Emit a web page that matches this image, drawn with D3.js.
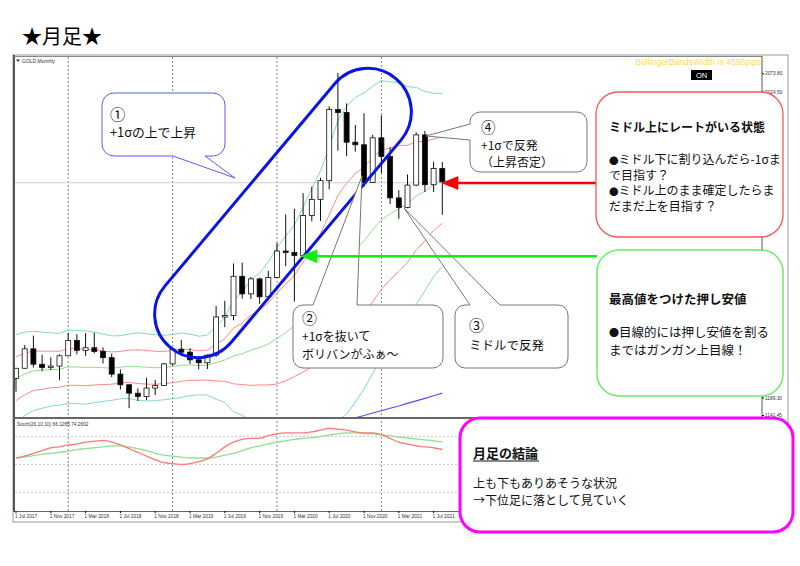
<!DOCTYPE html>
<html>
<head>
<meta charset="utf-8">
<script src="https://cdn.jsdelivr.net/npm/d3@7"></script>
<style>
body { margin: 0; background: #fff; }
svg { display: block; font-family: "Noto Sans CJK JP", "Noto Sans", sans-serif; }
.tiny { font-family: "Liberation Sans", Arial, sans-serif; fill: #333; }
</style>
</head>
<body>
<svg id="chart" width="800" height="566"></svg>
<script>
// GOLD monthly, Jul 2017 - Aug 2021
var months = ["2017-07","2017-08","2017-09","2017-10","2017-11","2017-12",
  "2018-01","2018-02","2018-03","2018-04","2018-05","2018-06","2018-07","2018-08","2018-09","2018-10","2018-11","2018-12",
  "2019-01","2019-02","2019-03","2019-04","2019-05","2019-06","2019-07","2019-08","2019-09","2019-10","2019-11","2019-12",
  "2020-01","2020-02","2020-03","2020-04","2020-05","2020-06","2020-07","2020-08","2020-09","2020-10","2020-11","2020-12",
  "2021-01","2021-02","2021-03","2021-04","2021-05","2021-06","2021-07","2021-08"];

var open  = [1241,1269,1322,1280,1271,1275, 1303,1345,1318,1325,1315,1298,1253,1224,1201,1192,1215,1222,
  1281,1321,1313,1292,1284,1305,1409,1413,1520,1472,1513,1464, 1517,1589,1585,1577,1686,1730,1781,1975,1967,1886,1879,1776,
  1898,1847,1734,1708,1769,1906,1770,1814];
var high  = [1269,1332,1358,1306,1299,1307, 1366,1362,1365,1366,1326,1309,1266,1225,1214,1243,1237,1284,
  1326,1346,1324,1303,1306,1439,1453,1555,1557,1518,1516,1535, 1611,1689,1704,1747,1765,1789,1984,2075,1992,1933,1965,1906,
  1959,1872,1755,1798,1913,1917,1833,1832];
var low   = [1205,1268,1271,1261,1264,1236, 1302,1307,1303,1310,1282,1245,1211,1160,1180,1182,1196,1221,
  1276,1303,1281,1266,1267,1300,1381,1400,1459,1458,1445,1454, 1517,1548,1451,1568,1670,1671,1757,1863,1848,1860,1764,1775,
  1802,1717,1677,1706,1766,1750,1750,1688];
var close = [1269,1322,1280,1271,1275,1303, 1345,1318,1325,1315,1298,1253,1224,1201,1192,1215,1222,1281,
  1321,1313,1292,1284,1305,1409,1413,1520,1472,1513,1464,1517, 1589,1585,1577,1686,1730,1781,1975,1967,1886,1879,1776,1898,
  1847,1734,1708,1769,1906,1770,1814,1778];

// Bollinger bands: middle line and sigma
var bbMid = [1240.6,1253.7,1261.9,1263.6,1265.7,1266.2,1272.7,1272.5,1271.2,1271.5,
  1270.6,1269.4,1271.9,1274.4,1273.4,1271.7,1270.4,1271.0,1273.6,1277.2,
  1278.3,1276.4,1277.7,1284.6,1291.5,1302.3,1308.7,1318.4,1325.4,1335.5,
  1350.0,1366.6,1384.3,1408.5,1435.4,1463.7,1501.4,1535.7,1563.9,1592.2,
  1616.4,1647.1,1674.2,1690.5,1705.2,1717.7,1739.4,1752.2,1769.7,1783.1];
var bbSigma = [60,57,54,52,50,49,50,50,50,48, 46,44,43,44,46,46,45,44,44,44,
  42,40,41,50,58,76,84,96,102,112, 124,132,138,150,162,172,186,205,210,208,
  202,196,190,180,172,160,148,136,125,118];
// blue line (only visible at the right, bottom of the price panel)
var blueLine = [null,null,null,null,null,null,null,null,null,null,null,null,null,null,null,null,null,null,null,null,
  null,null,null,null,null,null,null,null,null,null,null,null,null,null,null,null,null,null,
  1120,1134,1140,1147,1153,1160,1166,1173,1180,1187,1194,1201];

// Stoch(26,10,10)
var stochMain = [57,59,62,65,68,69,71,72,74,75, 76,74,71,67,63,59,55,52,51,50,
  51,53,56,62,69,74,77,78,78,81, 83,84,84,84,85,87,89,88,87,85,
  84,84,82,78,74,72,70,69,68,66.13];
var stochSignal = [57,58,59.5,61,62,63,64.5,66,67,68, 69,70,70,69,67,65,62,60,59,58,
  57,57,57,58,60,62,65,68,70,72, 74,75.5,77,78,79,80,81.5,83,84,84,
  83.5,83,82,81,79.5,78.5,77.5,76.5,75.5,74.26];
var stochLevels = [20, 50, 80];

var dateTicks = ["2017-07","2017-11","2018-03","2018-07","2018-11","2019-03","2019-07",
  "2019-11","2020-03","2020-07","2020-11","2021-03","2021-07"];
var dateTickLabels = ["1 Jul 2017","1 Nov 2017","1 Mar 2018","1 Jul 2018","1 Nov 2018","1 Mar 2019","1 Jul 2019",
  "1 Nov 2019","1 Mar 2020","1 Jul 2020","1 Nov 2020","1 Mar 2021","1 Jul 2021"];
var gridMonths = ["2018-01","2019-01","2020-01","2021-01"];
var priceTicks = [2073.80, 2024.50, 1189.30, 1141.45];

var svg = d3.select("#chart");

var x = d3.scaleBand().domain(months).range([11.65, 446.65]);
function cx(m){ return x(m) + x.bandwidth() / 2; }
var y = d3.scaleLinear().domain([1141.45, 2073.80]).range([415, 73.4]);
var ys = d3.scaleLinear().domain([0, 100]).range([511, 418]);

// title
svg.append("text").attr("x", 22).attr("y", 44).attr("font-size", 20).text("★月足★");

// window frame
svg.append("rect").attr("x", 13).attr("y", 55).attr("width", 775).attr("height", 467)
  .attr("fill", "#fff").attr("stroke", "#999");

var defs = svg.append("defs");
defs.append("clipPath").attr("id", "clipMain").append("rect")
  .attr("x", 15).attr("y", 57).attr("width", 747).attr("height", 361);
defs.append("clipPath").attr("id", "clipStoch").append("rect")
  .attr("x", 15).attr("y", 419).attr("width", 747).attr("height", 92);

// grid
gridMonths.forEach(function(m){
  svg.append("line").attr("x1", cx(m)).attr("x2", cx(m)).attr("y1", 57).attr("y2", 511)
    .attr("stroke", "#666").attr("stroke-width", 0.8).attr("stroke-dasharray", "2,2");
});
stochLevels.forEach(function(v){
  svg.append("line").attr("x1", 15).attr("x2", 762).attr("y1", ys(v)).attr("y2", ys(v))
    .attr("stroke", "#bbb").attr("stroke-width", 0.8).attr("stroke-dasharray", "2,2");
});

var main = svg.append("g").attr("clip-path", "url(#clipMain)");

// price line
main.append("line").attr("x1", 15).attr("x2", 762)
  .attr("y1", y(close[close.length - 1]) + 1).attr("y2", y(close[close.length - 1]) + 1)
  .attr("stroke", "#d0d0d0").attr("stroke-width", 1);

// bands
var bandLine = d3.line().defined(function(d){ return d != null; })
  .x(function(d, i){ return cx(months[i]); }).y(function(d){ return y(d); });
var bands = [
  {k: 2, color: "#7fd8d2"}, {k: -2, color: "#7fd8d2"},
  {k: 1, color: "#ff8a8a"}, {k: -1, color: "#ff8a8a"},
  {k: 0, color: "#8fe08f"}
];
bands.forEach(function(b){
  var vals = bbMid.map(function(m, i){ return m + b.k * bbSigma[i]; });
  main.append("path").datum(vals).attr("d", bandLine)
    .attr("fill", "none").attr("stroke", b.color).attr("stroke-width", 1);
});
main.append("path").datum(blueLine).attr("d", bandLine)
  .attr("fill", "none").attr("stroke", "#5050ff").attr("stroke-width", 1.2);

// candles
var candles = main.selectAll("g.candle").data(months).enter().append("g").attr("class", "candle");
candles.append("line")
  .attr("x1", function(m){ return cx(m); }).attr("x2", function(m){ return cx(m); })
  .attr("y1", function(m, i){ return y(high[i]); }).attr("y2", function(m, i){ return y(low[i]); })
  .attr("stroke", "#111").attr("stroke-width", 1);
candles.append("rect")
  .attr("x", function(m){ return cx(m) - 2.5; }).attr("width", 5)
  .attr("y", function(m, i){ return y(Math.max(open[i], close[i])); })
  .attr("height", function(m, i){ return Math.max(1, Math.abs(y(open[i]) - y(close[i]))); })
  .attr("fill", function(m, i){ return close[i] >= open[i] ? "#fff" : "#000"; })
  .attr("stroke", "#111").attr("stroke-width", 0.8);

// stochastic
var stoch = svg.append("g").attr("clip-path", "url(#clipStoch)");
var stochLine = d3.line().x(function(d, i){ return cx(months[i]); }).y(function(d){ return ys(d); })
  .curve(d3.curveMonotoneX);
stoch.append("path").datum(stochSignal).attr("d", stochLine)
  .attr("fill", "none").attr("stroke", "#8fe08f").attr("stroke-width", 1.3);
stoch.append("path").datum(stochMain).attr("d", stochLine)
  .attr("fill", "none").attr("stroke", "#ff7a7a").attr("stroke-width", 1.3);

// borders
svg.append("line").attr("x1", 14).attr("x2", 14).attr("y1", 55).attr("y2", 512).attr("stroke", "#555").attr("stroke-width", 2);
svg.append("line").attr("x1", 14).attr("x2", 762).attr("y1", 56.5).attr("y2", 56.5).attr("stroke", "#888");
svg.append("line").attr("x1", 762).attr("x2", 762).attr("y1", 56).attr("y2", 512).attr("stroke", "#555");
svg.append("line").attr("x1", 14).attr("x2", 762).attr("y1", 418).attr("y2", 418).attr("stroke", "#666").attr("stroke-width", 2);
svg.append("line").attr("x1", 14).attr("x2", 762).attr("y1", 511.5).attr("y2", 511.5).attr("stroke", "#666");

// axes
var priceAxis = svg.append("g").attr("transform", "translate(762,0)")
  .call(d3.axisRight(y).tickValues(priceTicks).tickSize(2).tickFormat(d3.format(".2f")));
priceAxis.select(".domain").remove();
priceAxis.selectAll("text").attr("class", "tiny").attr("font-size", 4.8).attr("x", 3);

var dateAxis = svg.append("g").attr("transform", "translate(0,511)")
  .call(d3.axisBottom(x).tickValues(dateTicks).tickSize(2)
    .tickFormat(function(d, i){ return dateTickLabels[i]; }));
dateAxis.select(".domain").remove();
dateAxis.selectAll("text").attr("class", "tiny").attr("font-size", 4.8)
  .attr("text-anchor", "start").attr("x", -1).attr("y", 4);

svg.append("path").attr("d", "M16,59.5 L20,59.5 L18,62 Z").attr("fill", "#333");
svg.append("text").attr("class", "tiny").attr("x", 22).attr("y", 62.5).attr("font-size", 5).text("GOLD,Monthly");
svg.append("text").attr("class", "tiny").attr("x", 17).attr("y", 425.5).attr("font-size", 4.8)
  .text("Stoch(26,10,10) 66.1285 74.2602");

svg.append("text").attr("x", 761).attr("y", 65).attr("text-anchor", "end")
  .attr("font-family", "Liberation Sans, Arial, sans-serif").attr("font-size", 8.6)
  .attr("fill", "#ffd75a").text("BollingerBandsWidth is 4595pips");
svg.append("rect").attr("x", 691).attr("y", 70).attr("width", 21).attr("height", 10).attr("fill", "#000");
svg.append("text").attr("x", 701.5).attr("y", 78).attr("text-anchor", "middle")
  .attr("font-family", "Liberation Sans, Arial, sans-serif").attr("font-size", 7.5)
  .attr("fill", "#fff").text("ON");

// blue capsule
svg.append("rect").attr("x", -175.5).attr("y", -43.5).attr("width", 351).attr("height", 87)
  .attr("rx", 43.5).attr("ry", 43.5)
  .attr("transform", "translate(283,213) rotate(-50)")
  .attr("fill", "none").attr("stroke", "#0a14e6").attr("stroke-width", 3);

// callouts
function callout(x0, y0, w, h, r, side, a, b, tip) {
  var x1 = x0 + w, y1 = y0 + h, p = d3.path();
  p.moveTo(x0 + r, y0);
  if (side === "top") { p.lineTo(a, y0); p.lineTo(tip[0], tip[1]); p.lineTo(b, y0); }
  p.lineTo(x1 - r, y0);
  p.arcTo(x1, y0, x1, y0 + r, r);
  p.lineTo(x1, y1 - r);
  p.arcTo(x1, y1, x1 - r, y1, r);
  if (side === "bottom") { p.lineTo(b, y1); p.lineTo(tip[0], tip[1]); p.lineTo(a, y1); }
  p.lineTo(x0 + r, y1);
  p.arcTo(x0, y1, x0, y1 - r, r);
  if (side === "left") { p.lineTo(x0, b); p.lineTo(tip[0], tip[1]); p.lineTo(x0, a); }
  p.lineTo(x0, y0 + r);
  p.arcTo(x0, y0, x0 + r, y0, r);
  p.closePath();
  return p.toString();
}
// text lines; a leading circled digit is drawn larger, a leading bullet smaller
function lines(x0, ys0, arr, size, weight) {
  arr.forEach(function(t, i){
    var el = svg.append("text").attr("x", x0).attr("y", ys0[i]).attr("font-size", size)
      .attr("font-weight", weight || "normal").attr("fill", "#111");
    if (/^[①②③④]$/.test(t)) {
      el.attr("font-size", size + 2.5).text(t);
    } else if (t.charAt(0) === "●") {
      el.append("tspan").attr("font-size", size * 0.8).text("●");
      el.append("tspan").text(t.slice(1));
    } else {
      el.text(t);
    }
  });
}

svg.append("path").attr("d", callout(102, 93, 123, 63, 12, "bottom", 173, 205, [235, 178]))
  .attr("fill", "#fff").attr("stroke", "#5a5aff").attr("stroke-width", 1);
lines(110, [120, 137], ["①", "+1σの上で上昇"], 12.8);

svg.append("path").attr("d", callout(293, 305, 150, 63, 10, "top", 313, 357, [362, 176]))
  .attr("fill", "#fff").attr("stroke", "#777").attr("stroke-width", 1);
lines(302, [324], ["②"], 12.5);
lines(302, [341, 358.5], ["+1σを抜いて", "ボリバンがふぁ～"], 12);

svg.append("path").attr("d", callout(455, 305, 113, 63, 10, "top", 470, 500, [404, 208]))
  .attr("fill", "#fff").attr("stroke", "#777").attr("stroke-width", 1);
lines(469, [331, 350], ["③", "ミドルで反発"], 12.5);

svg.append("path").attr("d", callout(470, 112, 117, 60, 10, "left", 124, 140, [426, 136]))
  .attr("fill", "#fff").attr("stroke", "#777").attr("stroke-width", 1);
lines(481, [133, 150, 167], ["④", "+1σで反発", "（上昇否定）"], 12);

// arrows
function arrow(x0, tipX, yy, color) {
  svg.append("line").attr("x1", x0).attr("x2", tipX + 14).attr("y1", yy).attr("y2", yy)
    .attr("stroke", color).attr("stroke-width", 2.5);
  svg.append("path").attr("d", "M" + tipX + "," + yy + " L" + (tipX + 17) + "," + (yy - 7) +
    " L" + (tipX + 17) + "," + (yy + 7) + " Z").attr("fill", color);
}
arrow(597, cx("2021-08") - 1, y(1775), "#ff0000");
arrow(597, cx("2020-03") + 6, y(1575), "#11ee11");

// right boxes
svg.append("rect").attr("x", 596).attr("y", 92).attr("width", 187).attr("height", 145).attr("rx", 22)
  .attr("fill", "#fff").attr("stroke", "#ff5555").attr("stroke-width", 1.3);
lines(609, [132], ["ミドル上にレートがいる状態"], 12, "bold");
lines(609, [164, 180, 195, 211], ["●ミドル下に割り込んだら-1σま", "で目指す？", "●ミドル上のまま確定したらま", "だまだ上を目指す？"], 12);

svg.append("rect").attr("x", 597).attr("y", 250).attr("width", 186).attr("height", 146).attr("rx", 22)
  .attr("fill", "#fff").attr("stroke", "#66ee66").attr("stroke-width", 1.5);
lines(609, [304], ["最高値をつけた押し安値"], 12.5, "bold");
lines(609, [337, 355], ["●目線的には押し安値を割る", "まではガンガン上目線！"], 12.5);

svg.append("rect").attr("x", 460).attr("y", 418).attr("width", 333).attr("height", 114).attr("rx", 20)
  .attr("fill", "#fff").attr("stroke", "#ff00ff").attr("stroke-width", 3);
lines(473, [458], ["月足の結論"], 13, "bold");
svg.append("line").attr("x1", 473).attr("x2", 539).attr("y1", 461).attr("y2", 461).attr("stroke", "#111").attr("stroke-width", 1);
lines(473, [488, 505], ["上も下もありあそうな状況", "→下位足に落として見ていく"], 12);
</script>
</body>
</html>
